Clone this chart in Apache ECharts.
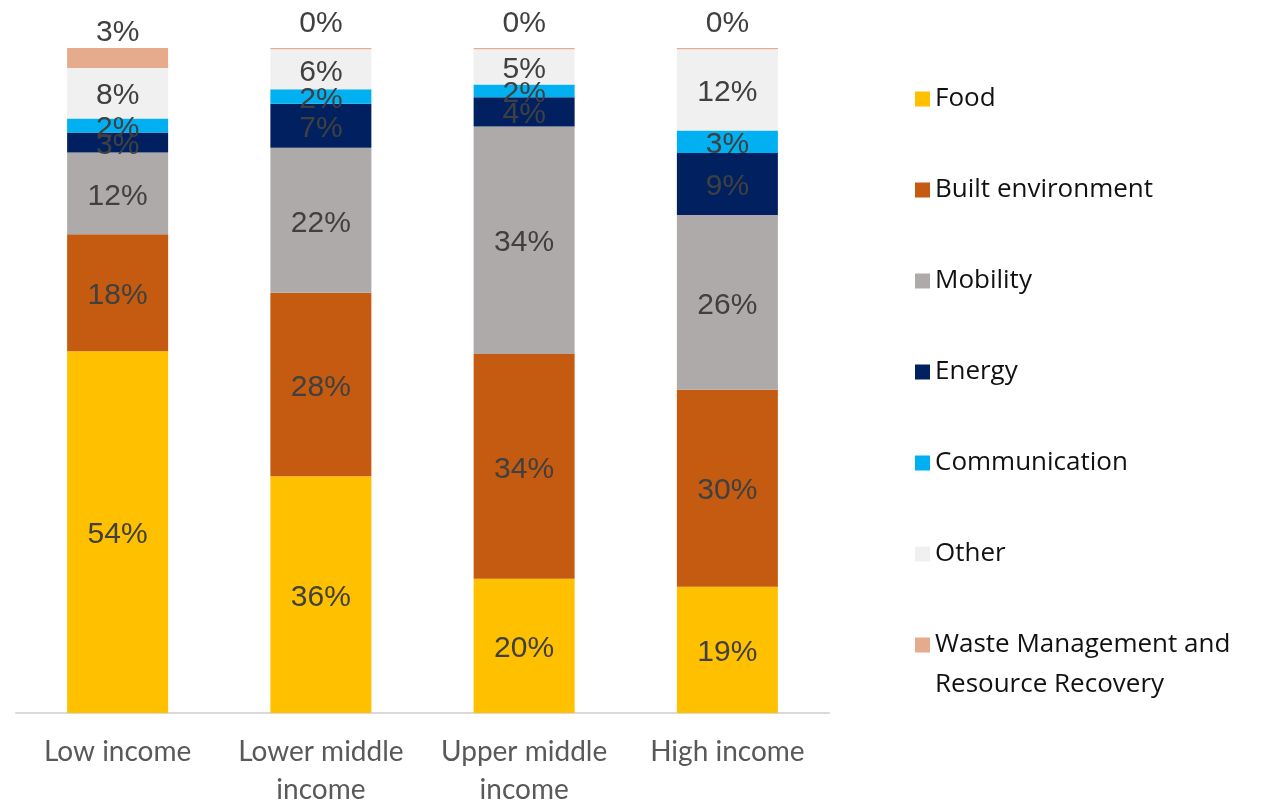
<!DOCTYPE html>
<html>
<head>
<meta charset="utf-8">
<title>Emissions by sector and income group</title>
<script src="https://cdn.jsdelivr.net/npm/echarts@6/dist/echarts.min.js"></script>
<style>
  html, body { margin: 0; padding: 0; background: #ffffff; }
  #chart { width: 1263px; height: 803px; }
</style>
</head>
<body>
<div id="chart"></div>
<script>
// Income groups along the x axis
const categories = ['Low income', 'Lower middle\nincome', 'Upper middle\nincome', 'High income'];

// Share of each sector within an income group (percent, each column sums to 100)
const food          = [54.4, 35.6, 20.2, 19.0];
const builtEnv      = [17.6, 27.6, 33.8, 29.6];
const mobility      = [12.3, 21.8, 34.2, 26.3];
const energy        = [3.0, 6.6, 4.4, 9.3];
const communication = [2.1, 2.2, 1.9, 3.4];
const other         = [7.6, 6.0, 5.3, 12.2];
const waste         = [3.0, 0.2, 0.2, 0.2];

const sectorNames = ['Food', 'Built environment', 'Mobility', 'Energy', 'Communication', 'Other',
  'Waste Management and Resource Recovery'];
const sectorValues = [food, builtEnv, mobility, energy, communication, other, waste];
const sectorColors = ['#FFC000', '#C55A11', '#AEAAAA', '#002060', '#00B0F0', '#F0F0F0', '#E6AB8C'];

const labelFont = {
  color: '#404040',
  fontFamily: '"Liberation Sans", Arial, sans-serif',
  fontSize: 30
};

const series = sectorNames.map((name, i) => {
  const isTop = i === sectorNames.length - 1;
  return {
    name: name,
    type: 'bar',
    stack: 'total',
    barWidth: 101,
    itemStyle: { color: sectorColors[i] },
    label: Object.assign({
      show: true,
      position: isTop ? 'top' : 'inside',
      distance: 3,
      offset: [0, 3],
      formatter: p => Math.round(p.value) + '%'
    }, labelFont),
    emphasis: { disabled: true },
    data: isTop
      ? sectorValues[i].map(v => ({ value: v, label: { distance: v < 1 ? 12 : 3 } }))
      : sectorValues[i]
  };
});

const legendText = {
  color: '#111111',
  fontFamily: '"Open Sans", sans-serif',
  fontWeight: 500,
  fontSize: 26,
  lineHeight: 40
};

const option = {
  animation: false,
  backgroundColor: '#ffffff',
  grid: { left: 16, right: 434, top: 48, bottom: 90, outerBoundsMode: 'none', containLabel: false },
  xAxis: {
    type: 'category',
    data: categories,
    axisLine: { show: true, lineStyle: { color: '#D9D9D9', width: 2 } },
    axisTick: { show: false },
    axisLabel: {
      interval: 0,
      margin: 20,
      color: '#595959',
      fontFamily: 'Lato, sans-serif',
      fontSize: 28,
      lineHeight: 38
    }
  },
  yAxis: {
    type: 'value',
    min: 0,
    max: 100,
    show: false,
    splitLine: { show: false }
  },
  legend: [
    {
      data: sectorNames.slice(0, 6),
      orient: 'vertical',
      left: 915,
      top: 79,
      padding: 0,
      icon: 'rect',
      itemWidth: 15,
      itemHeight: 15,
      itemGap: 51,
      selectedMode: false,
      textStyle: legendText
    },
    {
      data: [sectorNames[6]],
      orient: 'vertical',
      left: 915,
      top: 585,
      padding: 0,
      icon: 'rect',
      itemWidth: 15,
      itemHeight: 15,
      selectedMode: false,
      formatter: () => ' \nWaste Management and\nResource Recovery',
      textStyle: legendText
    }
  ],
  series: series
};

const chart = echarts.init(document.getElementById('chart'), null, { renderer: 'canvas' });
chart.setOption(option);
</script>
</body>
</html>
